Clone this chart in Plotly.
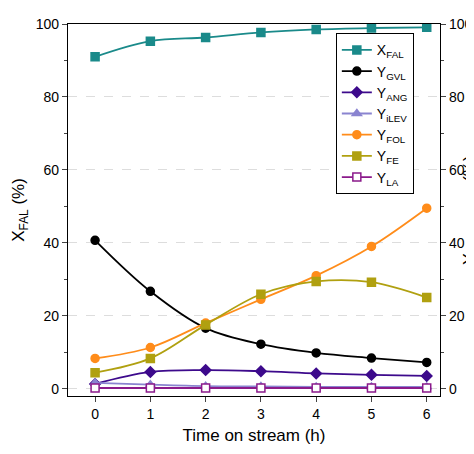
import plotly.graph_objects as go

time = [0, 1, 2, 3, 4, 5, 6]
x_fal = [91.0, 95.3, 96.3, 97.7, 98.5, 98.9, 99.1]
y_gvl = [40.7, 26.7, 16.6, 12.2, 9.8, 8.4, 7.2]
y_ang = [1.3, 4.6, 5.1, 4.8, 4.2, 3.8, 3.5]
y_ilev = [1.6, 1.1, 0.7, 0.6, 0.5, 0.5, 0.5]
y_fol = [8.3, 11.3, 18.0, 24.5, 31.0, 39.0, 49.5]
y_fe = [4.4, 8.3, 17.5, 25.9, 29.4, 29.2, 25.0]
y_la = [0.2, 0.2, 0.2, 0.2, 0.2, 0.2, 0.2]

series = [
    ("X<sub>FAL</sub>", x_fal, "#1a8a8a", "square", "#1a8a8a"),
    ("Y<sub>GVL</sub>", y_gvl, "black", "circle", "black"),
    ("Y<sub>ANG</sub>", y_ang, "#3d0a8c", "diamond", "#3d0a8c"),
    ("Y<sub>iLEV</sub>", y_ilev, "#8a84d0", "triangle-up", "#8a84d0"),
    ("Y<sub>FOL</sub>", y_fol, "#ff8c1a", "circle", "#ff8c1a"),
    ("Y<sub>FE</sub>", y_fe, "#b0a010", "square", "#b0a010"),
    ("Y<sub>LA</sub>", y_la, "#8b1a8b", "square-open", "white"),
]

fig = go.Figure()
for name, vals, col, sym, fill in series:
    fig.add_trace(go.Scatter(
        x=time, y=vals, name=name, mode="lines+markers",
        line=dict(color=col, width=1.8, shape="spline"),
        marker=dict(symbol=sym if sym != "square-open" else "square", size=8,
                    color=fill, line=dict(color=col, width=1.5)),
    ))
fig.add_trace(go.Scatter(x=[0], y=[0], yaxis="y2", showlegend=False,
                         mode="markers", marker=dict(opacity=0)))

axfont = dict(family="Arial, Liberation Sans", size=14, color="black")
fig.update_layout(
    width=474, height=454,
    plot_bgcolor="white", paper_bgcolor="white",
    margin=dict(l=60, r=42, t=16, b=66),
    font=axfont,
    xaxis=dict(range=[-0.49, 6.24], tickvals=time, showline=True, linecolor="black",
               linewidth=1.2, mirror=True, ticks="outside", ticklen=5, automargin=False,
               title=dict(text="Time on stream (h)", font=dict(size=17), standoff=8), showgrid=False, zeroline=False),
    yaxis=dict(range=[-2, 100], tickvals=[0, 20, 40, 60, 80, 100], showline=True,
               linecolor="black", linewidth=1.2, ticks="outside", ticklen=5, automargin=False,
               minor=dict(ticks="outside", ticklen=3, dtick=10),
               title=dict(text="X<sub>FAL</sub> (%)", font=dict(size=17), standoff=6),
               showgrid=True, gridcolor="#dddddd", griddash="dash", zeroline=False),
    yaxis2=dict(range=[-2, 100], overlaying="y", side="right", tickvals=[0, 20, 40, 60, 80, 100],
                showline=True, linecolor="black", linewidth=1.2, ticks="outside", ticklen=5,
                automargin=False,
                minor=dict(ticks="outside", ticklen=3, dtick=10),
                title=dict(text="Y<sub>PRODUCTS</sub> (%)", font=dict(size=17), standoff=4),
                showgrid=False, zeroline=False),
    legend=dict(x=0.72, y=0.975, xanchor="left", yanchor="top", bgcolor="white",
                bordercolor="black", borderwidth=1, font=dict(size=14),
                tracegroupgap=0, itemwidth=30),
)
fig.write_html("out.html")
